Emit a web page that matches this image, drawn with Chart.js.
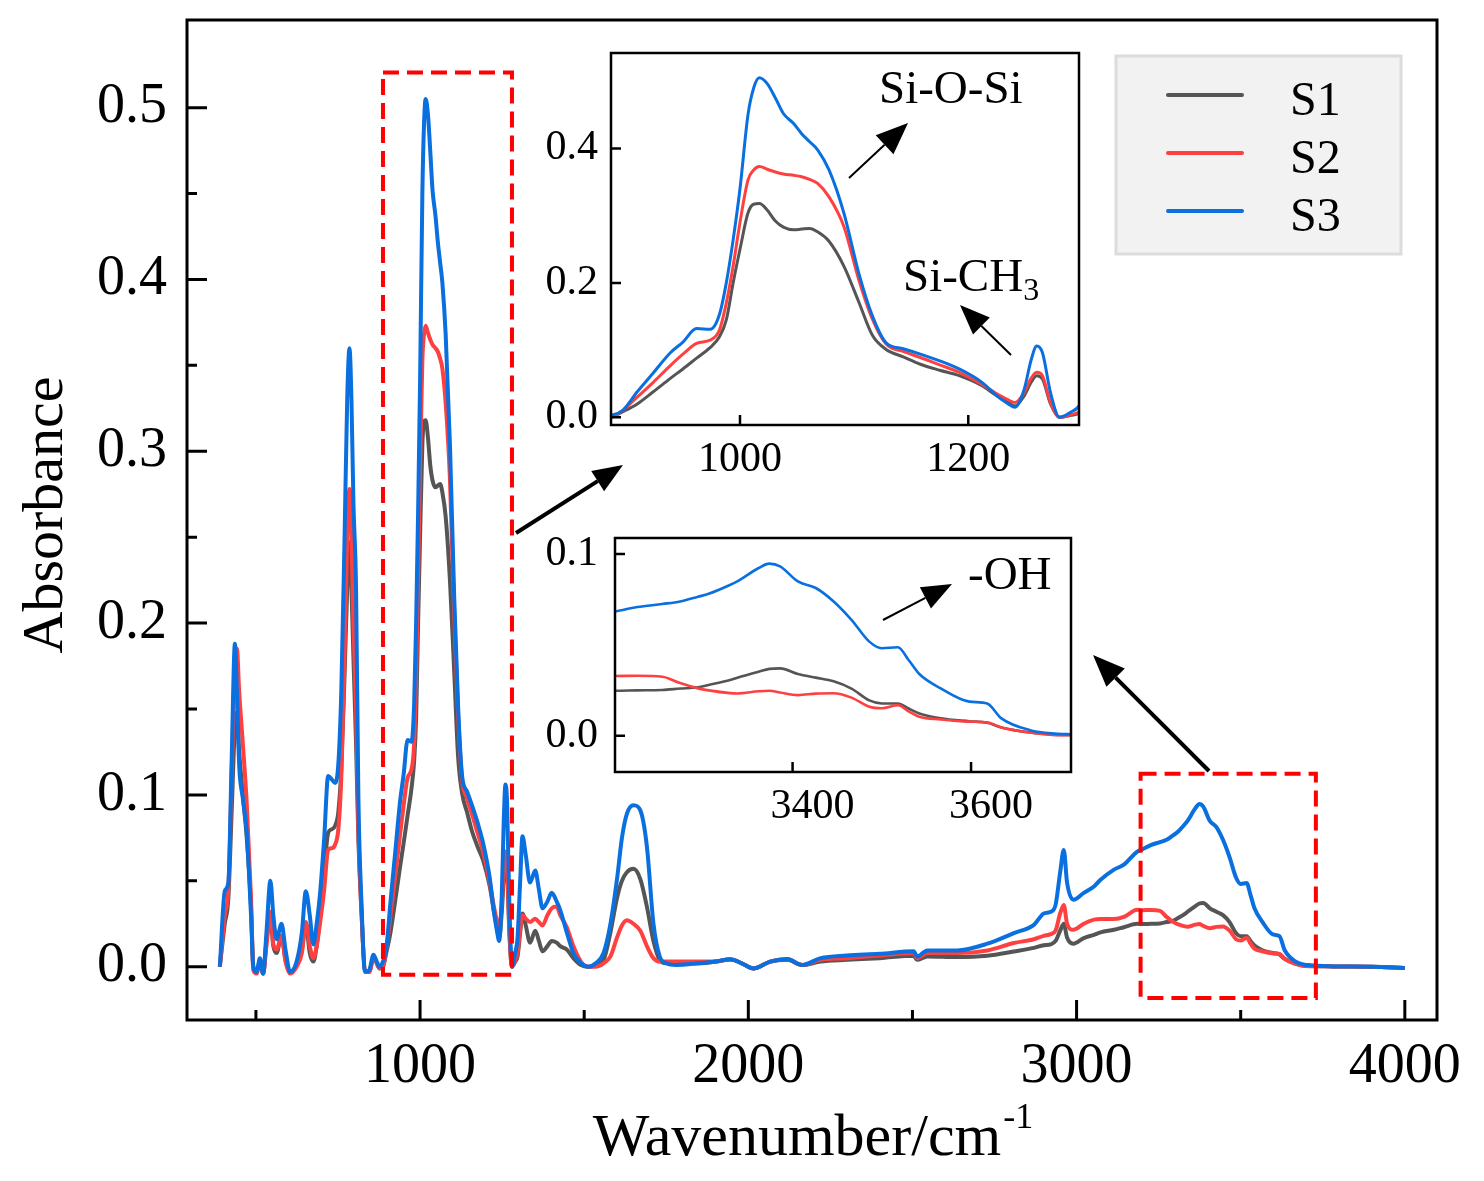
<!DOCTYPE html>
<html>
<head>
<meta charset="utf-8">
<script src="https://cdn.jsdelivr.net/npm/chart.js@4.4.1/dist/chart.umd.min.js"></script>
<style>
  body { margin: 0; background: #fff; }
  #wrap { position: relative; width: 1484px; height: 1181px; }
  canvas { position: absolute; }
</style>
</head>
<body>
<div id="wrap">
  <canvas id="mainPlot" width="1484" height="1181" style="left:0px;top:0px"></canvas>
  <canvas id="inset1" width="570" height="450" style="left:520px;top:40px"></canvas>
  <canvas id="inset2" width="570" height="320" style="left:520px;top:525px"></canvas>
</div>
<script>
// FTIR spectra (wavenumber in cm-1, absorbance)
const wavenumber = [
  390, 405, 416, 426, 436, 442, 449, 460, 472, 485, 492, 502, 512, 522, 532, 544, 553, 563, 578, 590, 604, 624, 640, 652, 664, 675, 685, 695, 708, 720, 731, 741, 751, 760, 770, 778, 785, 791, 797, 805, 812, 822, 832, 845, 858, 866, 876, 887,
  897, 910, 924, 939, 950, 962, 974, 982, 988, 994, 1000, 1007, 1012, 1017, 1024, 1031, 1038, 1047, 1054, 1061, 1068, 1078, 1091, 1104, 1116, 1128, 1143, 1158, 1175, 1192, 1212, 1225, 1235, 1241, 1249, 1255, 1260, 1265, 1272, 1280, 1290, 1297,
  1305, 1312, 1322, 1335, 1351, 1362, 1373, 1388, 1401, 1416, 1427, 1447, 1467, 1490, 1513, 1535, 1559, 1580, 1600, 1615, 1630, 1650, 1671, 1691, 1711, 1730, 1750, 1780,
  1850, 1900, 1945, 1980, 2016, 2067, 2118, 2164, 2220, 2300, 2400, 2504, 2514, 2545, 2636, 2728, 2809, 2870, 2900, 2921, 2936, 2950, 2961, 2971, 2990, 3022, 3053, 3073, 3114, 3144, 3185,
  3201, 3226, 3254, 3274, 3294, 3306, 3330, 3338, 3362, 3374, 3386, 3406, 3426, 3446, 3466, 3486, 3500, 3518, 3530, 3542, 3566, 3598, 3618, 3634, 3666, 3694, 3712, 3784, 3900, 4000
];

const s1 = [
  0.0, 0.025, 0.04, 0.09, 0.14, 0.148, 0.125, 0.1, 0.075, 0.035, 0.0, -0.003, 0.003, -0.004, 0.015, 0.028, 0.012, 0.008, 0.018, 0.004, -0.003, 0.001, 0.01, 0.025, 0.008, 0.003, 0.012, 0.028, 0.055, 0.078, 0.080, 0.082, 0.09, 0.115, 0.17, 0.22, 0.247, 0.22, 0.18, 0.13, 0.075, 0.03, -0.002, -0.003, 0.005, 0.003, -0.001, 0.0,
  0.008, 0.02, 0.038, 0.058, 0.072, 0.088, 0.104, 0.12, 0.145, 0.2, 0.25, 0.304, 0.317, 0.318, 0.308, 0.292, 0.283, 0.279, 0.28, 0.281, 0.276, 0.262, 0.225, 0.172, 0.122, 0.101, 0.09, 0.079, 0.07, 0.062, 0.047, 0.032, 0.022, 0.017, 0.032, 0.052, 0.062, 0.057, 0.020, 0.0, 0.003, 0.006,
  0.02, 0.031, 0.024, 0.014, 0.021, 0.015, 0.009, 0.012, 0.015, 0.014, 0.012, 0.010, 0.005, 0.001, 0.0, 0.001, 0.004, 0.02, 0.04, 0.05, 0.055, 0.057, 0.051, 0.035, 0.015, 0.004, 0.002, 0.002,
  0.002, 0.003, 0.0042, 0.002, -0.001, 0.003, 0.004, 0.001, 0.003, 0.004, 0.005, 0.0064, 0.004, 0.006, 0.0056, 0.0064, 0.0089, 0.011, 0.0125, 0.013, 0.015, 0.021, 0.025, 0.017, 0.0134, 0.0167, 0.0186, 0.02, 0.0215, 0.023, 0.025,
  0.0248, 0.025, 0.0252, 0.026, 0.0267, 0.028, 0.0307, 0.032, 0.0353, 0.0368, 0.0371, 0.034, 0.032, 0.030, 0.026, 0.0195, 0.0178, 0.0178, 0.015, 0.0123, 0.0096, 0.008, 0.0072, 0.0046, 0.0018, 0.0006, 0.0004, 0.0002, 0.0, -0.0008
];

const s2 = [
  0.0, 0.03, 0.045, 0.11, 0.175, 0.185, 0.16, 0.13, 0.095, 0.04, -0.002, -0.004, 0.003, -0.004, 0.012, 0.032, 0.013, 0.010, 0.018, 0.003, -0.004, 0.0, 0.008, 0.026, 0.012, 0.005, 0.012, 0.025, 0.045, 0.068, 0.069, 0.071, 0.08, 0.11, 0.18, 0.25, 0.278, 0.25, 0.2, 0.15, 0.08, 0.03, -0.002, -0.003, 0.005, 0.003, -0.001, 0.0,
  0.01, 0.03, 0.052, 0.077, 0.094, 0.11, 0.115, 0.13, 0.17, 0.225, 0.29, 0.353, 0.368, 0.373, 0.369, 0.365, 0.362, 0.36, 0.358, 0.354, 0.348, 0.328, 0.284, 0.205, 0.146, 0.109, 0.098, 0.089, 0.078, 0.067, 0.049, 0.035, 0.026, 0.022, 0.037, 0.058, 0.067, 0.062, 0.022, 0.0, 0.004, 0.008,
  0.022, 0.030, 0.028, 0.026, 0.028, 0.026, 0.024, 0.03, 0.034, 0.035, 0.03, 0.023, 0.012, 0.003, 0.0, 0.0, 0.002, 0.006, 0.017, 0.024, 0.027, 0.025, 0.021, 0.012, 0.005, 0.003, 0.003, 0.003,
  0.003, 0.003, 0.0044, 0.002, -0.001, 0.003, 0.0045, 0.001, 0.004, 0.005, 0.0065, 0.008, 0.005, 0.008, 0.008, 0.0095, 0.0138, 0.016, 0.018, 0.019, 0.021, 0.031, 0.036, 0.025, 0.0215, 0.025, 0.0274, 0.0278, 0.0278, 0.029, 0.0332,
  0.0329, 0.033, 0.0325, 0.029, 0.0261, 0.025, 0.0235, 0.0233, 0.0245, 0.0248, 0.0238, 0.0224, 0.0232, 0.0234, 0.021, 0.016, 0.0152, 0.0169, 0.0135, 0.0105, 0.009, 0.0078, 0.0074, 0.0046, 0.0018, 0.0004, 0.0003, 0.0002, 0.0, -0.0008
];

const s3 = [
  0.0, 0.044, 0.049, 0.12, 0.188, 0.16, 0.117, 0.098, 0.078, 0.03, 0.0, -0.003, 0.005, -0.004, 0.02, 0.05, 0.03, 0.016, 0.025, 0.01, -0.003, 0.003, 0.02, 0.044, 0.03, 0.013, 0.025, 0.042, 0.075, 0.111, 0.109, 0.107, 0.118, 0.16, 0.25, 0.33, 0.36, 0.33, 0.27, 0.22, 0.1, 0.035, -0.003, -0.002, 0.007, 0.004, 0.0, 0.003,
  0.010, 0.038, 0.066, 0.096, 0.112, 0.132, 0.131, 0.153, 0.2, 0.264, 0.34, 0.45, 0.49, 0.505, 0.496, 0.475, 0.452, 0.437, 0.422, 0.41, 0.398, 0.368, 0.304, 0.215, 0.151, 0.111, 0.102, 0.094, 0.084, 0.072, 0.052, 0.032, 0.02, 0.015, 0.042, 0.085, 0.106, 0.096, 0.037, 0.0, 0.008, 0.017,
  0.05, 0.076, 0.065, 0.049, 0.056, 0.045, 0.034, 0.038, 0.043, 0.038, 0.033, 0.02, 0.008, 0.002, 0.0, 0.002, 0.008, 0.025, 0.051, 0.075, 0.089, 0.094, 0.091, 0.07, 0.025, 0.006, 0.002, 0.001,
  0.002, 0.003, 0.0044, 0.002, -0.001, 0.003, 0.0045, 0.001, 0.005, 0.0065, 0.0075, 0.009, 0.006, 0.0095, 0.0095, 0.0134, 0.0196, 0.0244, 0.031, 0.032, 0.036, 0.055, 0.068, 0.049, 0.039, 0.043, 0.0467, 0.0506, 0.0565, 0.0594, 0.067,
  0.0684, 0.0708, 0.0725, 0.0739, 0.0765, 0.0781, 0.083, 0.0849, 0.0923, 0.0947, 0.0932, 0.0849, 0.0813, 0.0739, 0.0638, 0.0518, 0.0482, 0.0487, 0.0417, 0.034, 0.0261, 0.0188, 0.0178, 0.0096, 0.0031, 0.0012, 0.0009, 0.0002, 0.0, -0.0008
];

const seriesNames = ['S1', 'S2', 'S3'];
const seriesColors = ['#555555', '#ff4040', '#0a6fdf'];

const mainXTicks = [1000, 2000, 3000, 4000];
const mainXMinor = [500, 1500, 2500, 3500];
const mainYTicks = [0, 0.1, 0.2, 0.3, 0.4, 0.5];
const mainYMinor = [0.05, 0.15, 0.25, 0.35, 0.45];
const inset1XTicks = [1000, 1200];
const inset1YTicks = [0, 0.2, 0.4];
const inset2XTicks = [3400, 3600];
const inset2YTicks = [0, 0.1];

const FONT = "'Liberation Serif', 'Times New Roman', serif";
const allSeries = [s1, s2, s3];

function makeDatasets(lw) {
    return allSeries.map((vals, i) => ({
        label: seriesNames[i],
        data: wavenumber.map((w, k) => ({ x: w, y: vals[k] })),
        borderColor: seriesColors[i],
        borderWidth: lw,
        pointRadius: 0,
        fill: false,
        cubicInterpolationMode: 'monotone',
        order: 3 - i
    }));
}

// frame + inward tick marks
function framePlugin(o) {
    return {
        id: 'frame',
        afterDatasetsDraw(chart) {
            const { ctx, chartArea: a, scales: { x, y } } = chart;
            ctx.save();
            ctx.strokeStyle = '#000';
            ctx.lineWidth = o.lw;
            ctx.strokeRect(a.left, a.top, a.right - a.left, a.bottom - a.top);
            ctx.beginPath();
            o.xMajor.forEach(v => { const p = x.getPixelForValue(v); ctx.moveTo(p, a.bottom); ctx.lineTo(p, a.bottom - o.major); });
            (o.xMinor || []).forEach(v => { const p = x.getPixelForValue(v); ctx.moveTo(p, a.bottom); ctx.lineTo(p, a.bottom - o.minor); });
            o.yMajor.forEach(v => { const p = y.getPixelForValue(v); ctx.moveTo(a.left, p); ctx.lineTo(a.left + o.major, p); });
            (o.yMinor || []).forEach(v => { const p = y.getPixelForValue(v); ctx.moveTo(a.left, p); ctx.lineTo(a.left + o.minor, p); });
            ctx.stroke();
            ctx.restore();
        }
    };
}

function arrow(ctx, x1, y1, x2, y2, lw, L, W) {
    const ang = Math.atan2(y2 - y1, x2 - x1);
    const bx = x2 - L * Math.cos(ang), by = y2 - L * Math.sin(ang);
    ctx.lineWidth = lw;
    ctx.beginPath();
    ctx.moveTo(x1, y1);
    ctx.lineTo(bx, by);
    ctx.stroke();
    ctx.beginPath();
    ctx.moveTo(x2, y2);
    ctx.lineTo(bx + W * Math.sin(ang), by - W * Math.cos(ang));
    ctx.lineTo(bx - W * Math.sin(ang), by + W * Math.cos(ang));
    ctx.closePath();
    ctx.fill();
}

const whiteBg = {
    id: 'whiteBg',
    beforeDraw(chart) {
        const c = chart.ctx;
        c.save();
        c.fillStyle = '#fff';
        c.fillRect(0, 0, chart.width, chart.height);
        c.restore();
    }
};

// titles, legend, dashed boxes, arrows and labels on the main canvas
const decorations = {
    id: 'decorations',
    afterDraw(chart) {
        const { ctx, scales: { x, y } } = chart;
        ctx.save();
        ctx.fillStyle = '#000';
        ctx.strokeStyle = '#000';

        // y title
        ctx.save();
        ctx.translate(62, 515);
        ctx.rotate(-Math.PI / 2);
        ctx.font = '58px ' + FONT;
        ctx.textAlign = 'center';
        ctx.textBaseline = 'alphabetic';
        ctx.fillText('Absorbance', 0, 0);
        ctx.restore();

        // x title with superscript
        ctx.textAlign = 'left';
        ctx.textBaseline = 'alphabetic';
        ctx.font = '60px ' + FONT;
        const mainT = 'Wavenumber/cm';
        const w1 = ctx.measureText(mainT).width;
        ctx.font = '36px ' + FONT;
        const w2 = ctx.measureText('-1').width;
        const x0 = 812 - (w1 + w2) / 2;
        ctx.font = '60px ' + FONT;
        ctx.fillText(mainT, x0, 1155);
        ctx.font = '36px ' + FONT;
        ctx.fillText('-1', x0 + w1 + 2, 1128);

        // dashed red boxes (data coordinates)
        ctx.strokeStyle = '#ff0000';
        ctx.lineWidth = 4;
        ctx.setLineDash([16, 8]);
        const box = (w0, w1b, v0, v1) => {
            const l = x.getPixelForValue(w0), r = x.getPixelForValue(w1b);
            const t = y.getPixelForValue(v1), b = y.getPixelForValue(v0);
            ctx.strokeRect(l, t, r - l, b - t);
        };
        box(887, 1280, -0.0047, 0.5204);
        box(3195, 3729, -0.0182, 0.1123);
        ctx.setLineDash([]);

        // arrows
        ctx.strokeStyle = '#000';
        ctx.fillStyle = '#000';
        arrow(ctx, 516, 533, 623, 465, 4, 30, 12);
        arrow(ctx, 1209, 771, 1093, 655, 4, 32, 13);
        arrow(ctx, 849, 178, 908, 123, 2, 32, 13);
        arrow(ctx, 1011, 355, 960, 305, 2, 30, 12);
        arrow(ctx, 883, 620, 952, 584, 2, 30, 12);

        // annotation labels
        ctx.font = '47px ' + FONT;
        ctx.fillText('Si-O-Si', 879, 103);
        ctx.fillText('-OH', 968, 589);
        const siw = ctx.measureText('Si-CH').width;
        ctx.fillText('Si-CH', 903, 291);
        ctx.font = '32px ' + FONT;
        ctx.fillText('3', 903 + siw, 300);

        // legend
        ctx.fillStyle = '#f2f2f2';
        ctx.fillRect(1116, 56, 285, 198);
        ctx.strokeStyle = '#dcdcdc';
        ctx.lineWidth = 3;
        ctx.strokeRect(1116, 56, 285, 198);
        const rows = [95, 153, 211];
        ctx.font = '48px ' + FONT;
        chart.data.datasets.forEach((ds, i) => {
            ctx.strokeStyle = ds.borderColor;
            ctx.lineWidth = 4;
            ctx.lineCap = 'round';
            ctx.beginPath();
            ctx.moveTo(1168, rows[i]);
            ctx.lineTo(1242, rows[i]);
            ctx.stroke();
            ctx.fillStyle = '#000';
            ctx.fillText(ds.label, 1290, rows[i] + 20);
        });
        ctx.restore();
    }
};

function axisOpts(min, max, ticks, fmt, size, pad, fitKey, fitVal, labelOffset) {
    return {
        type: 'linear',
        min: min,
        max: max,
        grid: { display: false, drawTicks: false },
        border: { display: false },
        afterBuildTicks: s => { s.ticks = ticks.map(v => ({ value: v })); },
        afterFit: s => {
            s[fitKey] = fitVal;
            s.paddingTop = 0; s.paddingBottom = 0; s.paddingLeft = 0; s.paddingRight = 0;
        },
        ticks: {
            color: '#000',
            font: { family: FONT, size: size },
            padding: pad,
            maxRotation: 0,
            autoSkip: false,
            labelOffset: labelOffset || 0,
            callback: fmt
        }
    };
}

const fmtInt = v => String(v);
const fmt1 = v => v.toFixed(1);

new Chart(document.getElementById('mainPlot'), {
    type: 'line',
    data: { datasets: makeDatasets(4) },
    options: {
        responsive: false,
        animation: false,
        devicePixelRatio: 1,
        layout: { padding: { left: 0, top: 20, right: 47, bottom: 0 } },
        plugins: { legend: { display: false }, tooltip: { enabled: false } },
        scales: {
            x: axisOpts(290, 4098, mainXTicks, fmtInt, 56, 14, 'height', 161),
            y: axisOpts(-0.031, 0.551, mainYTicks, fmt1, 56, 20, 'width', 187)
        }
    },
    plugins: [whiteBg, framePlugin({ lw: 3, major: 20, minor: 10, xMajor: mainXTicks, xMinor: mainXMinor, yMajor: mainYTicks, yMinor: mainYMinor }), decorations]
});

new Chart(document.getElementById('inset1'), {
    type: 'line',
    data: { datasets: makeDatasets(3) },
    options: {
        responsive: false,
        animation: false,
        devicePixelRatio: 1,
        layout: { padding: { left: 0, top: 13, right: 11, bottom: 0 } },
        plugins: { legend: { display: false }, tooltip: { enabled: false } },
        scales: {
            x: axisOpts(887, 1297, inset1XTicks, fmtInt, 42, 10, 'height', 65),
            y: axisOpts(-0.0114, 0.542, inset1YTicks, fmt1, 42, 13, 'width', 91)
        }
    },
    plugins: [framePlugin({ lw: 2.5, major: 10, minor: 0, xMajor: inset1XTicks, yMajor: inset1YTicks })]
});

new Chart(document.getElementById('inset2'), {
    type: 'line',
    data: { datasets: makeDatasets(2.6) },
    options: {
        responsive: false,
        animation: false,
        devicePixelRatio: 1,
        layout: { padding: { left: 0, top: 13, right: 19, bottom: 0 } },
        plugins: { legend: { display: false }, tooltip: { enabled: false } },
        scales: {
            x: axisOpts(3201, 3712, inset2XTicks, fmtInt, 42, 10, 'height', 73, 20),
            y: axisOpts(-0.0199, 0.1088, inset2YTicks, fmt1, 42, 17, 'width', 95)
        }
    },
    plugins: [framePlugin({ lw: 2.5, major: 10, minor: 0, xMajor: inset2XTicks, yMajor: inset2YTicks })]
});
</script>
</body>
</html>
